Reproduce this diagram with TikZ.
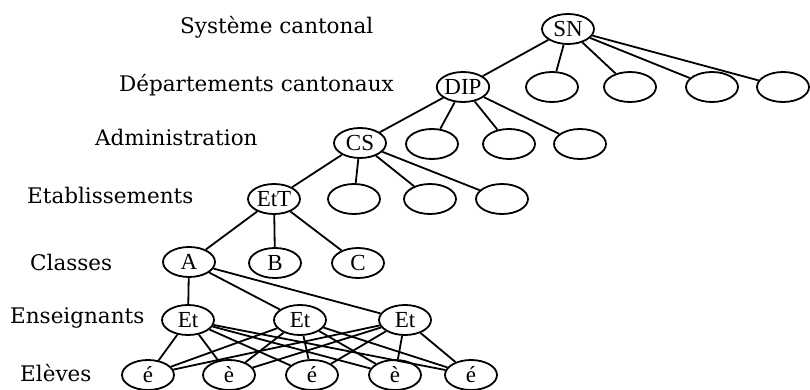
\documentclass[tikz,border=0pt]{standalone}
\usepackage{fontspec}
\setmainfont{DejaVu Serif}
\newfontfamily\knotenfont{Liberation Serif}
\usetikzlibrary{shapes.geometric}

\tikzset{
	knoten/.style={ellipse,draw,line width=1.8pt,minimum width=52pt,minimum height=30pt,inner sep=0pt,font=\knotenfont\fontsize{23}{23}\selectfont},
	ebene/.style={anchor=west,inner sep=0pt,font=\fontsize{21.5}{22}\selectfont},
	kante/.style={line width=1.8pt}
}

\begin{document}
\begin{tikzpicture}[x=1pt,y=-1pt]
			\useasboundingbox (0,0) rectangle (810,390);
			
			%Ebenen
			\node[ebene] (lsys) at (180,27) {Système cantonal};
			\node[ebene] (ldep) at (119,85) {Départements cantonaux};
			\node[ebene] (ladm) at (95,137) {Administration};
			\node[ebene] (leta) at (27,195) {Etablissements};
			\node[ebene] (lcla) at (30,262) {Classes};
			\node[ebene] (lens) at (10,318) {Enseignants};
			\node[ebene] (lele) at (20,373) {Elèves};
			
			%Knoten
			\node[knoten] (sn) at (568,29) {SN};
			\node[knoten] (dip) at (463,87) {DIP};
			\foreach \x [count=\i from 2] in {552,630,712,783}
				\node[knoten] (dep\i) at (\x,87) {};
			\node[knoten] (cs) at (360,143) {CS};
			\foreach \x [count=\i from 2] in {432,509,580}
				\node[knoten] (adm\i) at (\x,144) {};
			\node[knoten] (ett) at (274,199) {EtT};
			\foreach \x [count=\i from 2] in {354,430,502}
				\node[knoten] (eta\i) at (\x,199) {};
			\node[knoten] (a) at (189,262) {A};
			\node[knoten] (b) at (275,263) {B};
			\node[knoten] (c) at (358,263) {C};
			\foreach \x [count=\i] in {188,300,405}
				\node[knoten] (et\i) at (\x,320) {Et};
			\foreach \x/\t [count=\i] in {148/é,229/è,312/é,395/è,471/é}
				\node[knoten] (el\i) at (\x,375) {\t};
			
			%Kanten
			\draw[kante] (sn) -- (dip);
			\foreach \i in {2,...,5}
				\draw[kante] (sn) -- (dep\i);
			\draw[kante] (dip) -- (cs);
			\foreach \i in {2,...,4}
				\draw[kante] (dip) -- (adm\i);
			\draw[kante] (cs) -- (ett);
			\foreach \i in {2,...,4}
				\draw[kante] (cs) -- (eta\i);
			\foreach \k in {a,b,c}
				\draw[kante] (ett) -- (\k);
			\foreach \j in {1,2,3}
			{
				\draw[kante] (a) -- (et\j);
				\foreach \i in {1,...,5}
					\draw[kante] (et\j) -- (el\i);
			}
		\end{tikzpicture}
\end{document}
